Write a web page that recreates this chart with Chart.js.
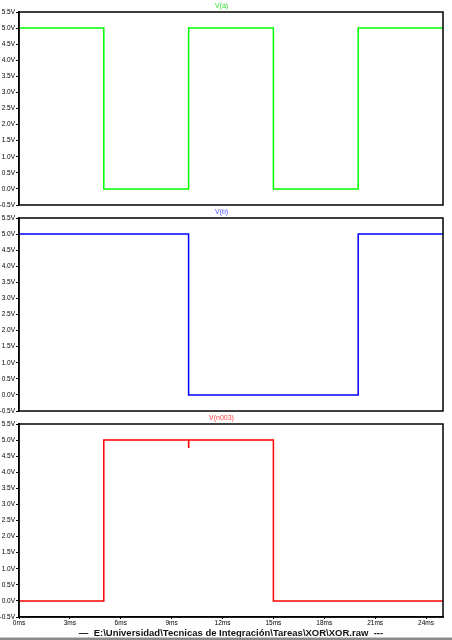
<!DOCTYPE html>
<html>
<head>
<meta charset="utf-8">
<script src="https://cdn.jsdelivr.net/npm/chart.js@4.4.1/dist/chart.umd.min.js"></script>
<style>
  html, body { margin: 0; padding: 0; background: #fff; }
  body { width: 452px; height: 640px; position: relative; overflow: hidden; }
  .pane { position: absolute; left: 0; width: 452px; }
  #footer { position: absolute; left: 19px; width: 424px; top: 628px; height: 10px;
            font: bold 9.5px "Liberation Sans", Arial, sans-serif; color: #111;
            text-align: center; line-height: 10px; white-space: pre; }
  #bar1 { position: absolute; left: 0; top: 637px; width: 452px; height: 1px; background: #c8c8c8; }
  #bar2 { position: absolute; left: 0; top: 638px; width: 452px; height: 2px; background: #8a8a8a; }
</style>
</head>
<body>
<div class="pane" style="top:0;height:210px"><canvas id="c1"></canvas></div>
<div class="pane" style="top:206px;height:210px"><canvas id="c2"></canvas></div>
<div class="pane" style="top:412px;height:217px"><canvas id="c3"></canvas></div>
<div id="footer">—  E:\Universidad\Tecnicas de Integración\Tareas\XOR\XOR.raw  ---</div>
<div id="bar1"></div><div id="bar2"></div>
<script>
// ---- data (time in ms, voltage in V) ----
const timeAB = [0, 5, 10, 15, 20, 25];
const vA = [5, 0, 5, 0, 5, 5];
const vB = [5, 5, 0, 0, 5, 5];
const timeOut = [0, 5, 10, 10.01, 15, 20, 25];
const vOut = [0, 5, 4.78, 5, 0, 0, 0];
const yTickValues = [-0.5, 0, 0.5, 1, 1.5, 2, 2.5, 3, 3.5, 4, 4.5, 5, 5.5];
const xTickValues = [0, 3, 6, 9, 12, 15, 18, 21, 24];
const xTickLabels = ['0ms', '3ms', '6ms', '9ms', '12ms', '15ms', '18ms', '21ms', '24ms'];
const titles = ['V(a)', 'V(b)', 'V(n003)'];

Chart.defaults.font.family = '"Liberation Sans", Arial, sans-serif';
Chart.defaults.color = '#000';

const boxPlugin = {
  id: 'box',
  afterDraw(chart) {
    const a = chart.chartArea, ctx = chart.ctx;
    ctx.save();
    ctx.strokeStyle = '#000';
    ctx.lineWidth = 1.5;
    ctx.strokeRect(a.left, a.top, a.right - a.left, a.bottom - a.top);
    ctx.restore();
  }
};

function makeChart(id, times, values, title, lineColor, titleColor, showX) {
  const pts = times.map((t, i) => ({ x: t, y: values[i] }));
  return new Chart(document.getElementById(id), {
    type: 'line',
    data: { datasets: [{ data: pts, borderColor: lineColor, borderWidth: 1.5,
      pointRadius: 0, stepped: 'before', fill: false, tension: 0 }] },
    options: {
      responsive: true, maintainAspectRatio: false, animation: false,
      layout: { padding: { left: 0, right: 9, top: 0, bottom: showX ? 1 : 5 } },
      plugins: {
        legend: { display: false }, tooltip: { enabled: false },
        title: { display: true, text: title, color: titleColor,
          font: { size: 7, weight: 'normal' }, padding: { top: 2, bottom: 1.6 } }
      },
      scales: {
        x: {
          type: 'linear', min: 0, max: 25, display: showX,
          afterBuildTicks: s => { s.ticks = xTickValues.map(v => ({ value: v })); },
          afterFit: s => { if (showX) s.height = 11; },
          ticks: { font: { size: 6.5 }, padding: 0, maxRotation: 0, autoSkip: false,
            callback: (v) => xTickLabels[xTickValues.indexOf(v)] },
          grid: { display: true, drawOnChartArea: false, drawTicks: true, tickLength: 2, color: '#000' },
          border: { display: true, color: '#000', width: 1.5 }
        },
        y: {
          type: 'linear', min: -0.5, max: 5.5,
          afterBuildTicks: s => { s.ticks = yTickValues.map(v => ({ value: v })); },
          afterFit: s => { s.width = 19; s.paddingTop = 0; s.paddingBottom = 0; },
          ticks: { font: { size: 6.5 }, padding: 1, autoSkip: false,
            callback: v => v.toFixed(1) + 'V' },
          grid: { display: true, drawOnChartArea: false, drawTicks: true, tickLength: 3, color: '#000' },
          border: { display: true, color: '#000', width: 1.5 }
        }
      }
    },
    plugins: [boxPlugin]
  });
}

makeChart('c1', timeAB, vA, titles[0], '#00ff00', '#30e030', false);
makeChart('c2', timeAB, vB, titles[1], '#0000ff', '#5050ff', false);
makeChart('c3', timeOut, vOut, titles[2], '#ff0000', '#ff4040', true);
</script>
</body>
</html>
